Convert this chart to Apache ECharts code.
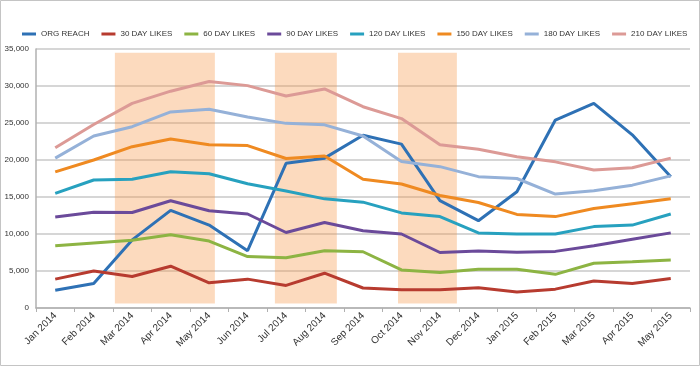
<!DOCTYPE html>
<html><head><meta charset="utf-8">
<script src="https://cdn.jsdelivr.net/npm/echarts@6/dist/echarts.min.js"></script>
<style>html,body{margin:0;padding:0;background:#fff}#c{width:700px;height:366px}</style>
</head><body><div id="c"></div>
<script>
const categories = ['Jan 2014','Feb 2014','Mar 2014','Apr 2014','May 2014','Jun 2014','Jul 2014','Aug 2014','Sep 2014','Oct 2014','Nov 2014','Dec 2014','Jan 2015','Feb 2015','Mar 2015','Apr 2015','May 2015'];
const orgReach = [2400,3300,9200,13200,11200,7750,19550,20250,23350,22150,14500,11800,15700,25400,27650,23400,17750];
const likes30  = [3900,5000,4250,5650,3400,3900,3050,4700,2700,2450,2450,2750,2150,2550,3650,3300,4000];
const likes60  = [8400,8800,9150,9900,9050,6950,6800,7750,7600,5150,4800,5250,5250,4550,6050,6250,6500];
const likes90  = [12300,12950,12900,14500,13150,12700,10200,11550,10450,10000,7500,7700,7550,7650,8400,9300,10150];
const likes120 = [15500,17300,17400,18400,18150,16800,15800,14750,14300,12850,12350,10150,10000,10000,11000,11200,12700];
const likes150 = [18400,20000,21800,22850,22050,21950,20200,20550,17400,16750,15200,14250,12650,12350,13450,14100,14750];
const likes180 = [20250,23250,24500,26500,26850,25800,24950,24750,23250,19800,19100,17750,17500,15400,15850,16600,17850];
const likes210 = [21650,24800,27650,29300,30600,30050,28650,29600,27200,25600,22050,21450,20450,19750,18650,18950,20250];
const seriesNames = ['ORG REACH','30 DAY LIKES','60 DAY LIKES','90 DAY LIKES','120 DAY LIKES','150 DAY LIKES','180 DAY LIKES','210 DAY LIKES'];
const seriesData = [orgReach,likes30,likes60,likes90,likes120,likes150,likes180,likes210];
const seriesColors = ['#2e71b5','#b73b2f','#8db443','#6b4a9a','#27a1bf','#ef8a21','#95b1d8','#dc9a96'];
// highlighted bands: [start, end] in category units, and vertical extent in value units
const bandStarts = [2.05, 6.21, 9.41];
const bandEnds   = [4.65, 7.82, 10.94];
const bandLow = 600, bandHigh = 34500;

const chart = echarts.init(document.getElementById('c'));
const series = seriesNames.map((n,i)=>({
  name:n, type:'line', data:seriesData[i], symbol:'none', z:2,
  lineStyle:{width:3,color:seriesColors[i]}, itemStyle:{color:seriesColors[i]}
}));
series.push({
  name:'bands', type:'line', xAxisIndex:1, data:[], z:10, silent:true,
  markArea:{silent:true, itemStyle:{color:'rgba(245,150,70,0.35)'},
    data: bandStarts.map((s,i)=>[{xAxis:s,yAxis:bandLow},{xAxis:bandEnds[i],yAxis:bandHigh}])}
});
chart.setOption({
  animation:false,
  backgroundColor:'#fff',
  graphic:[{type:'rect',shape:{x:0.5,y:0.5,width:699,height:365},style:{fill:'none',stroke:'#c4c4c4',lineWidth:1},silent:true}],
  legend:{data:seriesNames, top:25, left:17, itemWidth:14, itemHeight:3, itemGap:12,
    icon:'rect', textStyle:{fontFamily:'Liberation Sans, Arial',fontSize:8,color:'#333'}},
  grid:{left:36,right:10,top:49,bottom:58},
  xAxis:[{type:'category',data:categories,boundaryGap:true,
    axisLine:{lineStyle:{color:'#b0b0b0',width:1.5}},
    axisTick:{show:true,length:4,lineStyle:{color:'#b0b0b0'}},
    axisLabel:{rotate:45,fontFamily:'Liberation Sans, Arial',fontSize:10,color:'#333',margin:6,interval:0}},
   {type:'value',min:0,max:17,show:false}],
  yAxis:{type:'value',min:0,max:35000,interval:5000,
    axisLine:{show:true,lineStyle:{color:'#b0b0b0',width:1.5}},
    axisTick:{show:false},
    splitLine:{lineStyle:{color:'#c8c8c8',width:1.5}},
    axisLabel:{fontFamily:'Liberation Sans, Arial',fontSize:8,color:'#333',margin:7,
      formatter:v=>v.toLocaleString('en-US')}},
  series:series
});
</script></body></html>
